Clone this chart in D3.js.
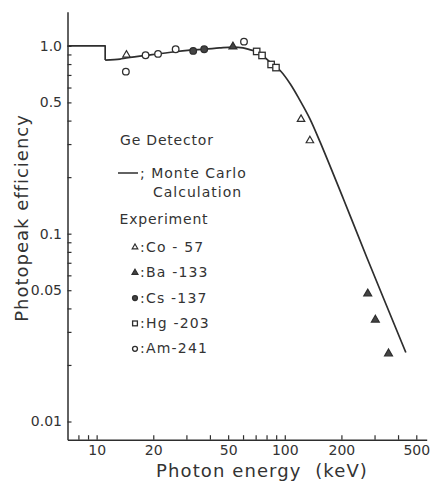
<!DOCTYPE html>
<html>
<head>
<meta charset="utf-8">
<script src="https://cdn.jsdelivr.net/npm/d3@7"></script>
<style>
  html, body { margin: 0; padding: 0; background: #fff; }
  svg { display: block; }
  text { font-family: "DejaVu Sans", sans-serif; fill: #333; }
</style>
</head>
<body>
<svg id="chart" width="432" height="491"></svg>
<script>
// Monte Carlo efficiency curve (keV, efficiency)
const calcEnergy = [7, 11.1, 11.1, 13.3, 14.4, 18.3, 21.2, 26, 31.4, 37.7, 45, 53, 60, 65, 71, 76, 84.6, 90, 95, 107, 120, 136, 154, 205, 272, 440];
const calcEff    = [1.0, 1.0, 0.84, 0.85, 0.862, 0.89, 0.905, 0.93, 0.948, 0.96, 0.975, 0.985, 0.975, 0.955, 0.93, 0.89, 0.81, 0.77, 0.735, 0.627, 0.516, 0.409, 0.308, 0.153, 0.0754, 0.0233];

// Measured points per source
const co57Energy  = [14.4, 122, 136];
const co57Eff     = [0.895, 0.407, 0.313];
const ba133Energy = [53, 276, 303, 356];
const ba133Eff    = [0.99, 0.0479, 0.0348, 0.023];
const cs137Energy = [32.6, 37.3];
const cs137Eff    = [0.94, 0.959];
const hg203Energy = [70.9, 75.7, 84.6, 89.8];
const hg203Eff    = [0.934, 0.889, 0.796, 0.766];
const am241Energy = [14.3, 18.2, 21.2, 26.3, 60.7];
const am241Eff    = [0.729, 0.891, 0.906, 0.959, 1.053];

// Axis ticks
const xTicks = [8, 9, 10, 20, 30, 40, 50, 60, 70, 80, 90, 100, 200, 300, 400, 500];
const xTickLabels = [10, 20, 50, 100, 200, 500];
const yTicks = [0.02, 0.03, 0.04, 0.05, 0.06, 0.07, 0.08, 0.09, 0.1,
                0.2, 0.3, 0.4, 0.5, 0.6, 0.7, 0.8, 0.9, 1.0, 0.01];
const yTickLabels = ["0.01", "0.05", "0.1", "0.5", "1.0"];

// Legend entries
const legendNames = [":Co - 57", ":Ba -133", ":Cs -137", ":Hg -203", ":Am-241"];
const legendKinds = ["triOpen", "triFill", "dotFill", "square", "dotOpen"];

const ink = "#2e2e2e";
const svg = d3.select("#chart");

const x = d3.scaleLog().domain([7, 568]).range([67.5, 426.7]);
const y = d3.scaleLog().domain([0.008, 1.52]).range([439.7, 11.7]);

// Axes with inward ticks
const xAxis = d3.axisBottom(x)
  .tickValues(xTicks)
  .tickSizeInner(-4.5).tickSizeOuter(0).tickPadding(5.5)
  .tickFormat(d => xTickLabels.includes(d) ? String(d) : "");
const gx = svg.append("g").attr("transform", `translate(0,${y.range()[0]})`).call(xAxis);

const yAxis = d3.axisLeft(y)
  .tickValues(yTicks)
  .tickSizeInner(-4).tickSizeOuter(0).tickPadding(5.5)
  .tickFormat(d => {
    const s = d === 1 ? "1.0" : String(d);
    return yTickLabels.includes(s) ? s : "";
  });
const gy = svg.append("g").attr("transform", `translate(${x.range()[0]},0)`).call(yAxis);

[gx, gy].forEach(g => {
  g.selectAll("path.domain").attr("stroke", ink).attr("stroke-width", 1.5);
  g.selectAll(".tick line").attr("stroke", ink).attr("stroke-width", 1.2);
  g.selectAll(".tick text").attr("fill", "#333")
    .style("font-family", "DejaVu Sans").style("font-size", "14px");
});
gx.selectAll(".tick text").attr("dy", "0.71em");

// Axis titles
svg.append("text")
  .attr("x", 262).attr("y", 477)
  .attr("text-anchor", "middle")
  .style("font-size", "18px").style("letter-spacing", "1.1px").style("white-space", "pre")
  .text("Photon energy  (keV)");

svg.append("text")
  .attr("transform", "translate(28,218) rotate(-90)")
  .attr("text-anchor", "middle")
  .style("font-size", "18px").style("letter-spacing", "1px")
  .text("Photopeak efficiency");

// Calculated curve: flat segment and K-edge drop, then smooth fall-off
const pts = calcEnergy.map((e, i) => [x(e), y(calcEff[i])]);
const edgeIdx = 2;
const linePart = d3.line().curve(d3.curveLinear)(pts.slice(0, edgeIdx + 1));
const smoothPart = d3.line().curve(d3.curveCatmullRom.alpha(0.5))(pts.slice(edgeIdx));
svg.append("path")
  .attr("d", linePart + smoothPart)
  .attr("fill", "none").attr("stroke", ink).attr("stroke-width", 1.7)
  .attr("stroke-linejoin", "round");

// Marker drawing
function marker(g, kind, cx, cy, scale) {
  const s = scale || 1;
  if (kind === "triOpen" || kind === "triFill") {
    g.append("path")
      .attr("d", d3.symbol().type(d3.symbolTriangle).size((kind === "triOpen" ? 24 : 27) * s * s)())
      .attr("transform", `translate(${cx},${cy})`)
      .attr("fill", kind === "triFill" ? "#444" : "#fff")
      .attr("stroke", ink).attr("stroke-width", 1.2);
  } else if (kind === "dotFill" || kind === "dotOpen") {
    g.append("circle")
      .attr("cx", cx).attr("cy", cy).attr("r", 3.3 * s)
      .attr("fill", kind === "dotFill" ? "#444" : "#fff")
      .attr("stroke", ink).attr("stroke-width", 1.3);
  } else if (kind === "square") {
    const h = 3.2 * s;
    g.append("rect")
      .attr("x", cx - h).attr("y", cy - h).attr("width", 2 * h).attr("height", 2 * h)
      .attr("fill", "#fff").attr("stroke", ink).attr("stroke-width", 1.3);
  }
}

const series = [
  [co57Energy, co57Eff, "triOpen"],
  [ba133Energy, ba133Eff, "triFill"],
  [cs137Energy, cs137Eff, "dotFill"],
  [hg203Energy, hg203Eff, "square"],
  [am241Energy, am241Eff, "dotOpen"]
];
const gm = svg.append("g");
series.forEach(([es, vs, kind]) => {
  es.forEach((e, i) => marker(gm, kind, x(e), y(vs[i])));
});

// Legend block
const lg = svg.append("g").style("font-size", "14px").style("letter-spacing", "0.8px");
lg.append("text").attr("x", 120).attr("y", 145).text("Ge Detector");
lg.append("line").attr("x1", 118).attr("x2", 138).attr("y1", 173).attr("y2", 173)
  .attr("stroke", ink).attr("stroke-width", 1.5);
lg.append("text").attr("x", 140).attr("y", 178).style("letter-spacing", "1px").text("; Monte Carlo");
lg.append("text").attr("x", 153).attr("y", 196.5).style("letter-spacing", "1px").text("Calculation");
lg.append("text").attr("x", 119.5).attr("y", 224).text("Experiment");
legendNames.forEach((name, i) => {
  const base = 251.7 + i * 25.4;
  marker(lg, legendKinds[i], 135, base - 4.5, 0.75);
  lg.append("text").attr("x", 140).attr("y", base).style("letter-spacing", "1.2px").text(name);
});
</script>
</body>
</html>
